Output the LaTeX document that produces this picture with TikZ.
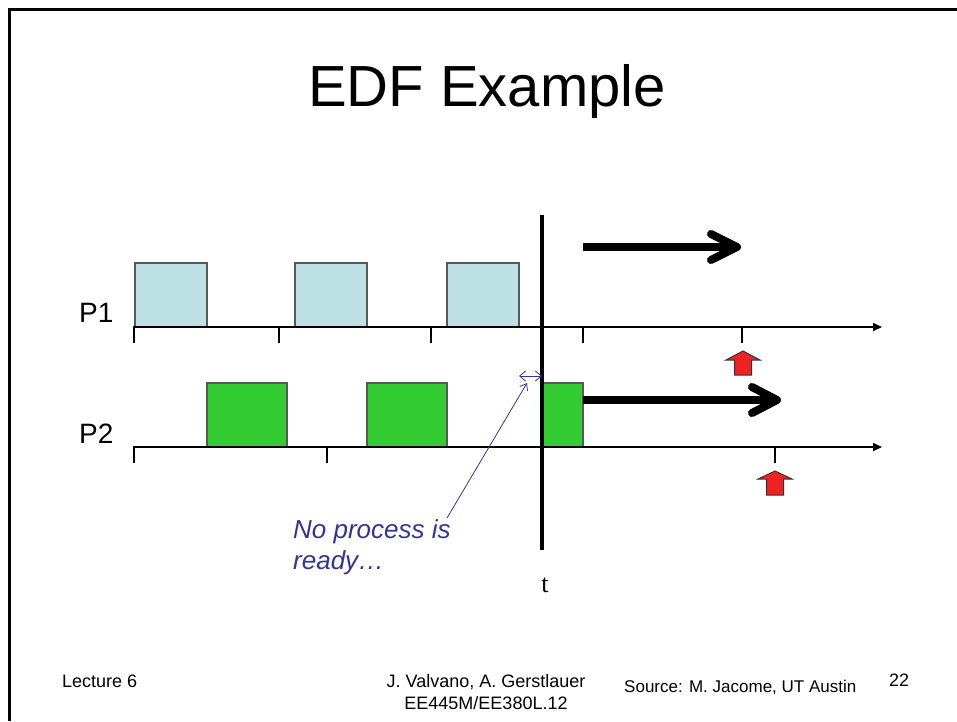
\documentclass[tikz,border=0pt]{standalone}
\usepackage{fontspec}
\setmainfont{Liberation Sans}
\newfontfamily\serifft{Liberation Serif}
\usetikzlibrary{arrows.meta}
\definecolor{pblue}{HTML}{BDE0E3}
\definecolor{pgreen}{HTML}{33CC33}
\definecolor{pred}{HTML}{EE2222}
\definecolor{nblue}{HTML}{333399}
\begin{document}
\begin{tikzpicture}[x=1pt,y=-1pt,
  axis/.style={line width=1.8pt,-{Triangle[length=9pt,width=8pt]}},
  tick/.style={line width=2.5pt},
  bluebox/.style={fill=pblue,draw=black!65,line width=1.5pt},
  greenbox/.style={fill=pgreen,draw=black!65,line width=1.5pt},
  bigarrow/.style={line width=8pt,line join=round},
  chev/.style={line width=8pt,line cap=round,line join=round},
  redarrow/.style={fill=pred,draw=black!80,line width=1pt},
  lbl/.style={font=\fontsize{28}{32}\selectfont,anchor=base west,inner sep=0},
  foot/.style={font=\fontsize{18}{22}\selectfont,inner sep=0}
]
\useasboundingbox (0,0) rectangle (957,721);
% frame
\draw[line width=3pt] (9,721) -- (9,9) -- (957,9);
% title
\node[font=\fontsize{58}{66}\selectfont,anchor=base,inner sep=0] (title) at (487,106) {EDF Example};
% labels
\node[lbl] (p1) at (79,322) {P1};
\node[lbl] (p2) at (79,443) {P2};
% P1 boxes
\draw[bluebox] (135,327) rectangle (207,263);
\draw[bluebox] (295,327) rectangle (367,263);
\draw[bluebox] (447,327) rectangle (519,263);
% P2 boxes
\draw[greenbox] (207,447) rectangle (287,383);
\draw[greenbox] (367,447) rectangle (447,383);
\draw[greenbox] (543,447) rectangle (583,383);
% axes
\draw[axis] (133,327) -- (882,327);
\draw[axis] (133,447) -- (882,447);
% ticks P1
\foreach \x in {134,279,431,583,742} \draw[tick] (\x,326) -- (\x,343);
% ticks P2
\foreach \x in {134,327,775} \draw[tick] (\x,446) -- (\x,463);
% vertical line
\draw[line width=4pt] (542,215) -- (542,550);
% big arrows
\draw[bigarrow] (583,247) -- (735,247);
\draw[chev] (711,234) -- (737,247) -- (711,260);
\draw[bigarrow] (583,400) -- (772,400);
\draw[chev] (752,387) -- (777,400) -- (752,413);
% red arrows
\draw[redarrow] (743,351) -- (760,360) -- (751.5,360) -- (751.5,375) -- (734.5,375) -- (734.5,360) -- (726,360) -- cycle;
\draw[redarrow] (775,471) -- (792,479) -- (783.5,479) -- (783.5,495) -- (766.5,495) -- (766.5,479) -- (758,479) -- cycle;
% blue annotation
\coordinate (dl) at (519,376);
\coordinate (dr) at (542,376);
\draw[nblue,line width=0.8pt,{Straight Barb[length=6pt,width=10pt]}-{Straight Barb[length=6pt,width=10pt]}] (dl) -- (dr);
\node[font=\fontsize{26}{31}\selectfont\itshape,text=nblue,align=left,anchor=north west,inner sep=0] (note) at (293,519) {No process is\\ready\ldots};
\coordinate (ns) at (447,518);
\coordinate (nt) at (527,383);
\draw[nblue,line width=0.8pt,-{Straight Barb[length=6pt,width=9pt]}] (ns) -- (nt);
% t
\node[font=\serifft\fontsize{26}{30}\selectfont,anchor=base,inner sep=0] (t) at (545,592) {t};
% footer
\node[foot,anchor=base west] (lec) at (62,687) {Lecture 6};
\node[foot,anchor=base,align=center] (auth) at (486,687) {J. Valvano, A. Gerstlauer};
\node[foot,anchor=base] (course) at (486,709) {EE445M/EE380L.12};
\node[foot,anchor=base west,font=\fontsize{17}{20}\selectfont] (src) at (624,692) {Source: M. Jacome, UT Austin};
\node[foot,anchor=base west] (num) at (889,686) {22};
\end{tikzpicture}
\end{document}
